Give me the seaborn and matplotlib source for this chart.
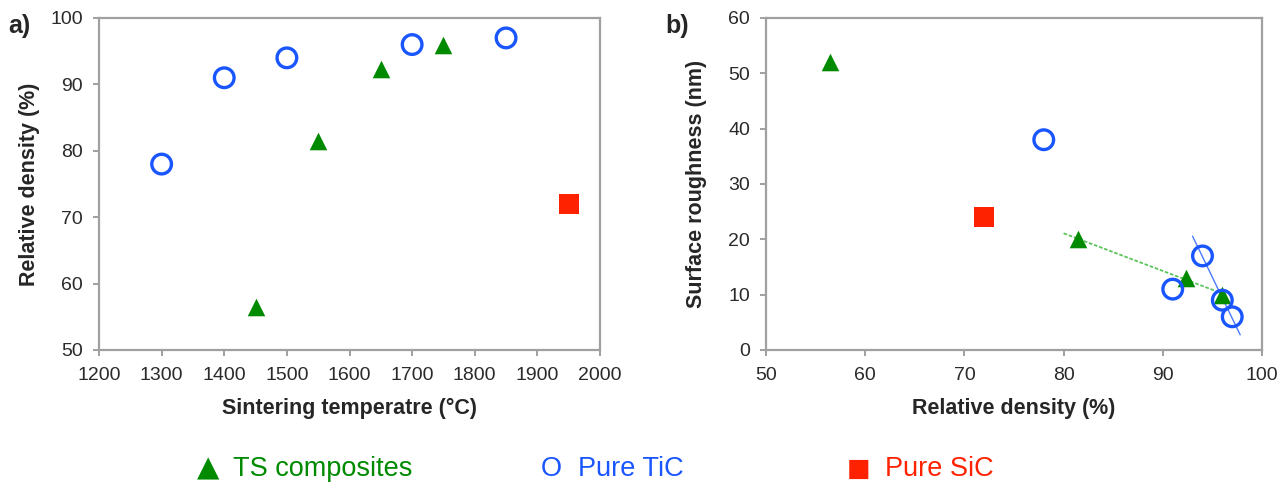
import numpy as np
import matplotlib
matplotlib.use("Agg")
import matplotlib.pyplot as plt
import seaborn as sns

# sintering data
ts_temp = [1450, 1550, 1650, 1750]
ts_density = [56.5, 81.5, 92.3, 96.0]
ts_rough = [52, 20, 13, 10]

tic_temp = [1300, 1400, 1500, 1700, 1850]
tic_density = [78, 91, 94, 96, 97]
tic_rough = [38, 11, 17, 9, 6]

sic_temp = [1950]
sic_density = [72]
sic_rough = [24]

green = "#008a00"
blue = "#1a56ff"
red = "#ff2200"
grey = "#a0a0a0"

sns.set_style("white")
plt.rcParams["font.family"] = ["Liberation Sans", "DejaVu Sans"]

fig = plt.figure(figsize=(12.88, 4.84), dpi=100)
ax1 = fig.add_axes([99 / 1288, 134 / 484, 501 / 1288, 332 / 484])
ax2 = fig.add_axes([766 / 1288, 134 / 484, 496 / 1288, 332 / 484])


def draw(ax, x_ts, y_ts, x_tic, y_tic, x_sic, y_sic):
    sns.scatterplot(x=x_ts, y=y_ts, ax=ax, marker="^", s=160, color=green,
                    edgecolor=green, linewidth=0, zorder=3)
    sns.scatterplot(x=x_tic, y=y_tic, ax=ax, marker="o", s=200, facecolor="none",
                    edgecolor=blue, linewidth=2.4, zorder=3)
    sns.scatterplot(x=x_sic, y=y_sic, ax=ax, marker="s", s=200, color=red,
                    edgecolor=red, linewidth=0, zorder=3)
    for sp in ax.spines.values():
        sp.set_color(grey)
        sp.set_linewidth(1.6)
    ax.tick_params(axis="both", direction="out", length=4, width=1.4, color=grey,
                   labelsize=14, labelcolor="#2a2a2a", bottom=True, left=True)
    ax.tick_params(axis="x", pad=8)
    ax.tick_params(axis="y", pad=7.5)


draw(ax1, ts_temp, ts_density, tic_temp, tic_density, sic_temp, sic_density)
ax1.set_xlim(1200, 2000)
ax1.set_ylim(50, 100)
ax1.set_xticks(range(1200, 2001, 100))
ax1.set_yticks(range(50, 101, 10))
ax1.set_xlabel("Sintering temperatre (°C)", fontsize=15.5, fontweight="bold", labelpad=10)
ax1.set_ylabel("Relative density (%)", fontsize=15.5, fontweight="bold")
ax1.yaxis.set_label_coords(-0.118, 0.5)

draw(ax2, ts_density, ts_rough, tic_density, tic_rough, sic_density, sic_rough)

# linear trend lines through the dense samples
k, b = np.polyfit(ts_density[1:], ts_rough[1:], 1)
xs = np.array([80, 96])
ax2.plot(xs, k * xs + b, color="#5cc45c", lw=1.3, ls=(0, (2, 1)), zorder=2)
k2, b2 = np.polyfit(tic_density[2:], tic_rough[2:], 1)
xs2 = np.array([93.0, 97.8])
ax2.plot(xs2, k2 * xs2 + b2, color="#4a7bff", lw=1.0, zorder=2)

ax2.set_xlim(50, 100)
ax2.set_ylim(0, 60)
ax2.set_xticks(range(50, 101, 10))
ax2.set_yticks(range(0, 61, 10))
ax2.set_xlabel("Relative density (%)", fontsize=15.5, fontweight="bold", labelpad=10)
ax2.set_ylabel("Surface roughness (nm)", fontsize=15.5, fontweight="bold")
ax2.yaxis.set_label_coords(-0.118, 0.5)

fig.text(8 / 1288, 1 - 33 / 484, "a)", fontsize=18, fontweight="bold")
fig.text(665 / 1288, 1 - 33 / 484, "b)", fontsize=18, fontweight="bold")

# legend row
ly = 8 / 484
fs = 19.5
fig.text(197 / 1288, ly, "▲", fontsize=21, color=green, family="DejaVu Sans")
fig.text(233 / 1288, ly, "TS composites", fontsize=fs, color=green)
fig.text(541 / 1288, ly, "O", fontsize=fs, color=blue)
fig.text(578 / 1288, ly, "Pure TiC", fontsize=fs, color=blue)
fig.text(847 / 1288, ly, "■", fontsize=18, color=red, family="DejaVu Sans")
fig.text(885 / 1288, ly, "Pure SiC", fontsize=fs, color=red)

fig.savefig("out.png", dpi=100)
